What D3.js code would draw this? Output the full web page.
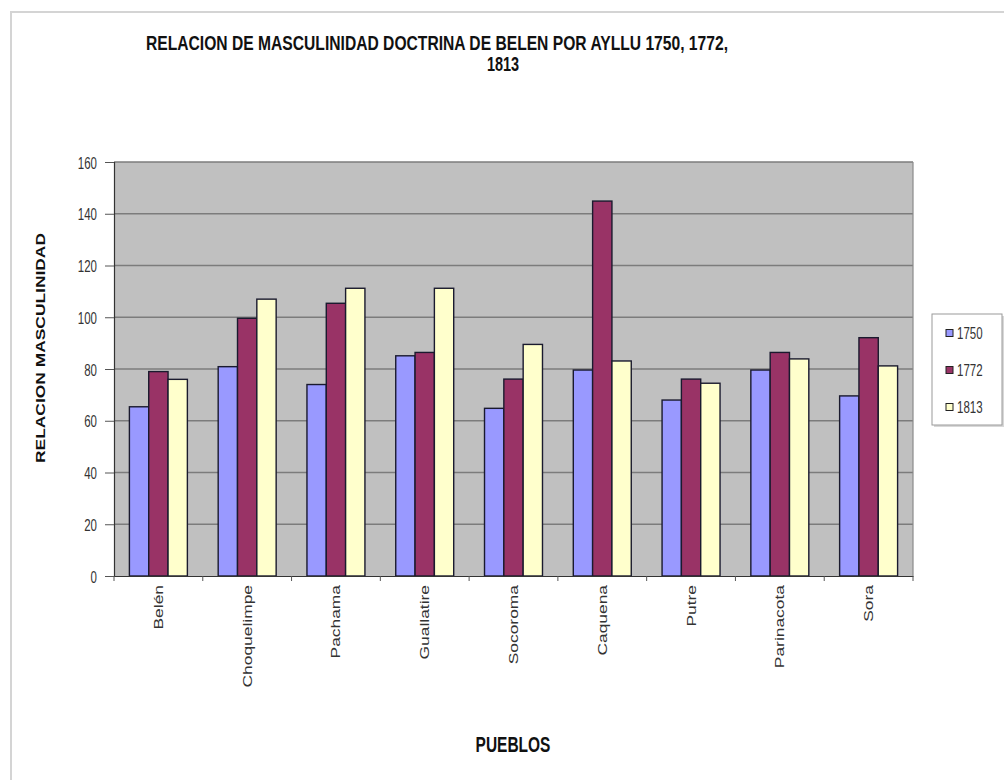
<!DOCTYPE html>
<html>
<head>
<meta charset="utf-8">
<script src="https://cdn.jsdelivr.net/npm/d3@7"></script>
<style>
  html, body { margin: 0; padding: 0; background: #fff; }
  svg { display: block; font-family: Arial, "Liberation Sans", sans-serif; }
</style>
</head>
<body>
<svg id="chart" width="1004" height="780"></svg>
<script>
const pueblos = ["Belén", "Choquelimpe", "Pachama", "Guallatire", "Socoroma", "Caquena", "Putre", "Parinacota", "Sora"];
const years = ["1750", "1772", "1813"];
const values1750 = [65.4, 80.9, 74, 85.1, 64.8, 79.6, 68, 79.6, 69.6];
const values1772 = [79, 99.6, 105.4, 86.4, 76.1, 144.9, 76.1, 86.4, 92.1];
const values1813 = [76, 107, 111.2, 111.2, 89.5, 83.1, 74.5, 83.9, 81.2];
const yTicks = [0, 20, 40, 60, 80, 100, 120, 140, 160];
const colors = ["#9999ff", "#993366", "#ffffcc"];
const titleLine1 = "RELACION DE MASCULINIDAD DOCTRINA DE BELEN POR AYLLU 1750, 1772,";
const titleLine2 = "1813";
const yTitle = "RELACION  MASCULINIDAD";
const xTitle = "PUEBLOS";

const seriesValues = [values1750, values1772, values1813];
const data = pueblos.map((p, i) => ({ pueblo: p, vals: years.map((y, j) => ({ year: y, v: seriesValues[j][i], idx: j })) }));

const SY = 1.45; // vertical stretch of text in reference
const svg = d3.select("#chart");

// chart area border
svg.append("path").attr("d", "M11,780 L11,12 L1004,12").attr("fill", "none").attr("stroke", "#d4d4d4").attr("stroke-width", 2);

const plot = { left: 114, right: 913, top: 162, bottom: 576 };
const x = d3.scaleBand().domain(pueblos).range([plot.left, plot.right]).paddingInner(0.347).paddingOuter(0.1735);
const xs = d3.scaleBand().domain(years).range([0, x.bandwidth()]);
const y = d3.scaleLinear().domain([0, 160]).range([plot.bottom, plot.top]);

// plot background
svg.append("rect").attr("x", plot.left).attr("y", plot.top).attr("width", plot.right - plot.left).attr("height", plot.bottom - plot.top).attr("fill", "#c0c0c0");

// gridlines
svg.append("g").selectAll("line").data(yTicks.filter(t => t > 0)).join("line")
  .attr("x1", plot.left).attr("x2", plot.right)
  .attr("y1", d => y(d)).attr("y2", d => y(d))
  .attr("stroke", "#7c7c7c").attr("stroke-width", 1.4);
// plot right border
svg.append("line").attr("x1", plot.right).attr("x2", plot.right).attr("y1", plot.top).attr("y2", plot.bottom).attr("stroke", "#8a8a8a").attr("stroke-width", 1.2);

// bars
const groups = svg.append("g").selectAll("g").data(data).join("g").attr("transform", d => `translate(${x(d.pueblo)},0)`);
groups.selectAll("rect").data(d => d.vals).join("rect")
  .attr("x", d => xs(d.year)).attr("width", xs.bandwidth())
  .attr("y", d => y(d.v)).attr("height", d => y(0) - y(d.v))
  .attr("fill", d => colors[d.idx]).attr("stroke", "#1a1a2e").attr("stroke-width", 1.4);

// y axis
const yAxis = svg.append("g").attr("transform", `translate(${plot.left},0)`)
  .call(d3.axisLeft(y).tickValues(yTicks).tickSize(9).tickFormat(d3.format("d")));
yAxis.select(".domain").attr("stroke", "#333").attr("stroke-width", 1.2);
yAxis.selectAll(".tick line").attr("stroke", "#555");
yAxis.selectAll(".tick text").remove();
yAxis.selectAll(".tick").append("text")
  .attr("transform", `translate(-17,0) scale(1,${SY})`)
  .attr("text-anchor", "end").attr("dy", "0.36em")
  .attr("font-size", "11.5px").attr("fill", "#333")
  .text(d => d3.format("d")(d));

// x axis
const xAxis = svg.append("g").attr("transform", `translate(0,${plot.bottom})`)
  .call(d3.axisBottom(x).tickSize(0).tickFormat(""));
xAxis.select(".domain").attr("stroke", "#333").attr("stroke-width", 1.2);
// boundary ticks
const boundaries = d3.range(pueblos.length + 1).map(i => plot.left + i * (plot.right - plot.left) / pueblos.length);
svg.append("g").selectAll("line").data(boundaries).join("line")
  .attr("x1", d => d).attr("x2", d => d).attr("y1", plot.bottom).attr("y2", plot.bottom + 5)
  .attr("stroke", "#555");
svg.append("g").selectAll("text").data(pueblos).join("text")
  .attr("transform", d => `translate(${x(d) + x.bandwidth() / 2 + 4.5},585) scale(1,${SY}) rotate(-90)`)
  .attr("text-anchor", "end").attr("font-size", "12px").attr("fill", "#333")
  .text(d => d);

// titles
svg.append("text").attr("transform", `translate(146,50) scale(1,${SY})`)
  .attr("font-size", "14.5px").attr("font-weight", "bold").attr("fill", "#111")
  .attr("textLength", 582).attr("lengthAdjust", "spacingAndGlyphs")
  .text(titleLine1);
svg.append("text").attr("transform", `translate(503,71) scale(1,${SY})`)
  .attr("text-anchor", "middle")
  .attr("font-size", "14.5px").attr("font-weight", "bold").attr("fill", "#111")
  .text(titleLine2);
svg.append("text").attr("transform", `translate(45,348) scale(1,${SY}) rotate(-90)`)
  .attr("text-anchor", "middle")
  .attr("font-size", "12px").attr("font-weight", "bold").attr("fill", "#111")
  .text(yTitle);
svg.append("text").attr("transform", `translate(513,752) scale(1,${SY})`)
  .attr("text-anchor", "middle")
  .attr("font-size", "15.5px").attr("font-weight", "bold").attr("fill", "#111")
  .text(xTitle);

// legend
const lg = svg.append("g");
lg.append("rect").attr("x", 934).attr("y", 316).attr("width", 70).attr("height", 111).attr("fill", "#d8d8d8");
lg.append("rect").attr("x", 932).attr("y", 314).attr("width", 70).attr("height", 111).attr("fill", "#fff").attr("stroke", "#9a9a9a");
const ly = d3.scalePoint().domain(years).range([333, 407]);
const items = lg.selectAll("g").data(years).join("g").attr("transform", d => `translate(0,${ly(d)})`);
items.append("rect").attr("x", 946).attr("y", -3.5).attr("width", 7).attr("height", 7)
  .attr("fill", (d, i) => colors[i]).attr("stroke", "#222").attr("stroke-width", 1);
items.append("text").attr("transform", `translate(957,0) scale(1,${SY})`)
  .attr("dy", "0.36em").attr("font-size", "11.5px").attr("fill", "#333").text(d => d);
</script>
</body>
</html>
